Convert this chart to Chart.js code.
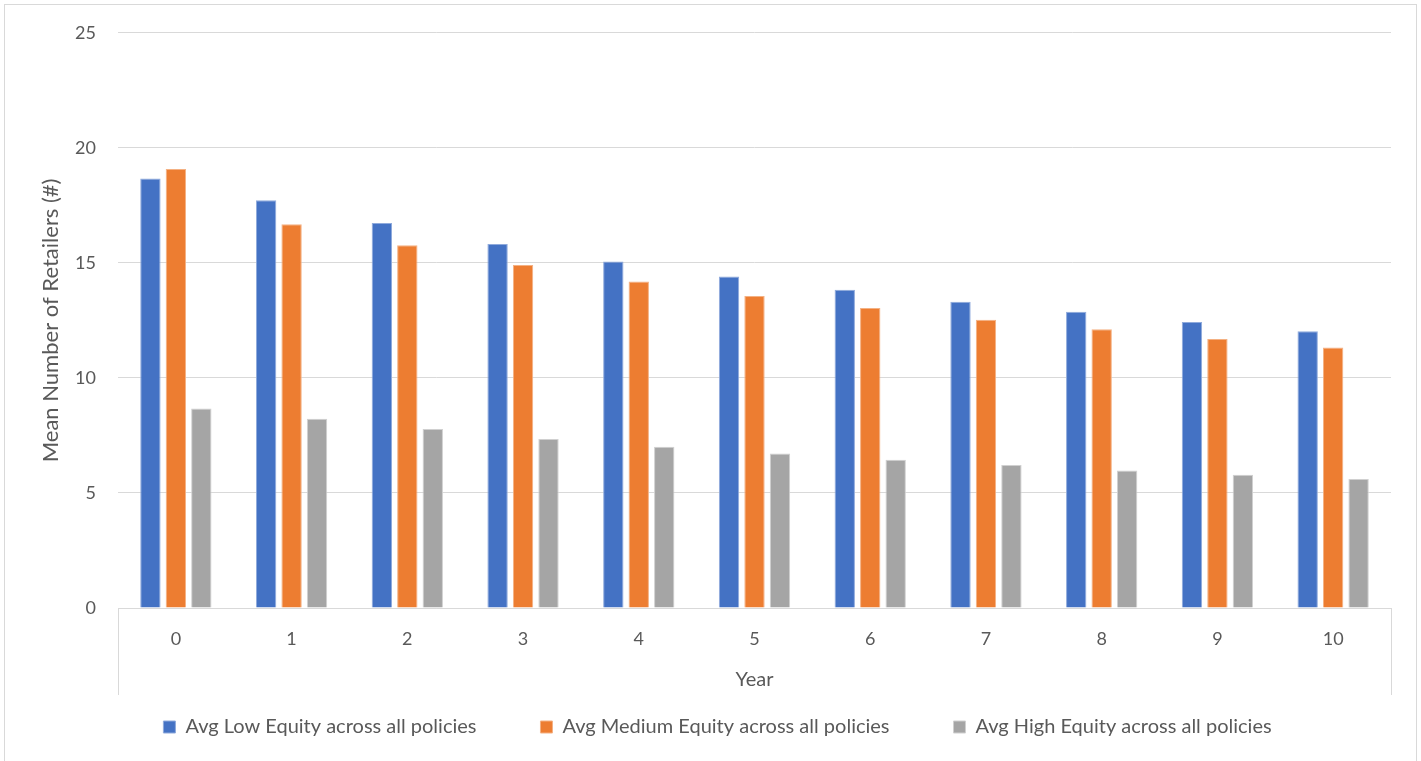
<!DOCTYPE html>
<html>
<head>
<meta charset="utf-8">
<script src="https://cdn.jsdelivr.net/npm/chart.js@4.4.1/dist/chart.umd.min.js"></script>
<style>
  html, body { margin: 0; padding: 0; background: #ffffff; overflow: hidden; }
  #frame { position: absolute; left: 4px; top: 4px; width: 1413px; height: 800px; border: 1px solid #d9d9d9; box-sizing: border-box; }
  #wrap { position: absolute; left: 0; top: 0; width: 1421px; height: 761px; }
</style>
</head>
<body>
<div id="frame"></div>
<div id="wrap"><canvas id="chart" width="1421" height="761"></canvas></div>
<script>
// Mean number of retailers per year, by equity group
const years = ['0', '1', '2', '3', '4', '5', '6', '7', '8', '9', '10'];
const lowEquity = [18.67, 17.72, 16.73, 15.82, 15.06, 14.41, 13.83, 13.31, 12.88, 12.43, 12.03];
const mediumEquity = [19.08, 16.68, 15.77, 14.91, 14.19, 13.56, 13.04, 12.53, 12.11, 11.69, 11.32];
const highEquity = [8.67, 8.22, 7.78, 7.35, 7.01, 6.72, 6.44, 6.21, 5.98, 5.79, 5.61];
const seriesNames = [
  'Avg Low Equity across all policies',
  'Avg Medium Equity across all policies',
  'Avg High Equity across all policies'
];

const FONT = 'Lato, "Open Sans", sans-serif';
const TEXT = '#595959';
const GRID = '#d9d9d9';
const LEGEND_SIZE = 20;
const LEGEND_GAP = 64;

// Vertical border lines at both ends of the category axis band
const categoryBand = {
  id: 'categoryBand',
  afterDraw(chart) {
    const x = chart.scales.x;
    const ctx = chart.ctx;
    ctx.save();
    ctx.strokeStyle = GRID;
    ctx.lineWidth = 1;
    ctx.beginPath();
    ctx.moveTo(Math.round(x.left) + 0.5, x.top);
    ctx.lineTo(Math.round(x.left) + 0.5, x.bottom);
    ctx.moveTo(Math.round(x.right) + 0.5, x.top);
    ctx.lineTo(Math.round(x.right) + 0.5, x.bottom);
    ctx.stroke();
    ctx.restore();
  }
};

// Keeps the legend row compact: wide spacing between entries,
// but the row sits just below the category band, centred under the plot.
const compactLegend = {
  id: 'compactLegend',
  beforeLayout(chart) {
    const lg = chart.legend;
    if (lg && !lg._compact) {
      const fit = lg.fit;
      lg.fit = function () { fit.call(this); this.height = 66; };
      lg._compact = true;
    }
  },
  afterLayout(chart) {
    const lg = chart.legend;
    const x = chart.scales.x;
    lg.top = x.bottom + 32 - LEGEND_GAP - LEGEND_SIZE / 2;
    lg.bottom = chart.height;
    lg.height = lg.bottom - lg.top;
    lg.left += 12;
    lg.right += 12;
  }
};

new Chart(document.getElementById('chart'), {
  type: 'bar',
  data: {
    labels: years,
    datasets: [
      { label: seriesNames[0], data: lowEquity, backgroundColor: '#4472c4', borderColor: '#8faadc', borderWidth: 1 },
      { label: seriesNames[1], data: mediumEquity, backgroundColor: '#ed7d31', borderColor: '#f4b183', borderWidth: 1 },
      { label: seriesNames[2], data: highEquity, backgroundColor: '#a5a5a5', borderColor: '#d0d0d0', borderWidth: 1 }
    ]
  },
  options: {
    responsive: false,
    animation: false,
    datasets: { bar: { categoryPercentage: 0.66, barPercentage: 0.8 } },
    layout: { padding: { top: 32, right: 30, left: 20, bottom: 0 } },
    plugins: {
      legend: {
        position: 'bottom',
        labels: {
          color: TEXT,
          font: { family: FONT, size: LEGEND_SIZE },
          boxWidth: 12,
          boxHeight: 12,
          padding: LEGEND_GAP
        }
      },
      tooltip: { enabled: false }
    },
    scales: {
      x: {
        grid: { display: false, drawTicks: false },
        border: { display: true, color: GRID, width: 1 },
        ticks: { color: TEXT, font: { family: FONT, size: 18 }, padding: 20 },
        title: { display: true, text: 'Year', color: TEXT, font: { family: FONT, size: 20 }, padding: { top: 0, bottom: 3 } },
        afterFit(scale) { scale.height = 87; }
      },
      y: {
        min: 0,
        max: 25,
        ticks: { stepSize: 5, color: TEXT, font: { family: FONT, size: 18 }, padding: 22 },
        grid: { color: GRID, drawTicks: false, lineWidth: 1 },
        border: { display: false },
        title: { display: true, text: 'Mean Number of Retailers (#)', color: TEXT, font: { family: FONT, size: 22 }, padding: { top: 18, bottom: 0 } },
        afterFit(scale) { scale.width = 98; }
      }
    }
  },
  plugins: [categoryBand, compactLegend]
});
</script>
</body>
</html>
